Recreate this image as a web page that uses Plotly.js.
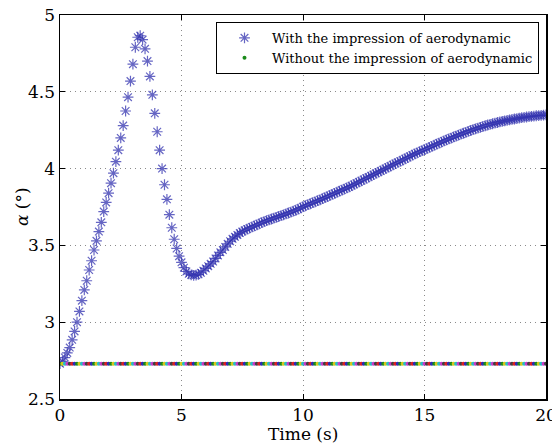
<!DOCTYPE html>
<html>
<head>
<meta charset="utf-8">
<script src="https://cdn.plot.ly/plotly-3.0.1.min.js"></script>
<style>html,body{margin:0;padding:0;background:#fff;}#chart{width:552px;height:445px;}</style>
</head>
<body>
<div id="chart"></div>
<script>
// time samples (s), step 0.1 s from 0 to 20
const timeStart = 0, timeStep = 0.1, timeCount = 201;
const time = [];
for (let i = 0; i < timeCount; i++) time.push(+(timeStart + i * timeStep).toFixed(1));

// alpha (deg) with aerodynamic impression
const alphaRise = [2.73, 2.745, 2.77, 2.80, 2.835, 2.885, 2.94, 3.00, 3.07, 3.14,
  3.21, 3.27, 3.34, 3.40, 3.47, 3.53, 3.59, 3.65, 3.72, 3.78, 3.84];            // 0.0-2.0
const alphaPeak = [3.905, 3.97, 4.045, 4.12, 4.20, 4.28, 4.375, 4.465, 4.57, 4.68,
  4.79, 4.855, 4.865, 4.84, 4.78, 4.70, 4.60, 4.48, 4.36, 4.24,
  4.12, 4.00, 3.895, 3.80];                                                       // 2.1-4.4
const alphaDip = [3.70, 3.615, 3.54, 3.48, 3.43, 3.39, 3.355, 3.33, 3.315, 3.308,
  3.305, 3.307, 3.312, 3.322, 3.335, 3.35];                                       // 4.5-6.0
const alphaRecover = [3.365, 3.38, 3.395, 3.415, 3.435, 3.455, 3.47, 3.49, 3.51, 3.527,
  3.543, 3.556, 3.568, 3.58, 3.59, 3.598, 3.606, 3.613, 3.62, 3.627];            // 6.1-8.0
const alphaClimb = [3.634, 3.641, 3.648, 3.655, 3.661, 3.666, 3.672, 3.677, 3.683, 3.688,
  3.694, 3.699, 3.705, 3.711, 3.717, 3.723, 3.729, 3.736, 3.744, 3.752,
  3.758, 3.765, 3.771, 3.778, 3.784, 3.791, 3.797, 3.804, 3.811, 3.818,
  3.825, 3.832, 3.839, 3.846, 3.853, 3.860, 3.867, 3.874, 3.881, 3.889,
  3.897, 3.905, 3.913, 3.921, 3.929, 3.937, 3.945, 3.953, 3.961, 3.969,
  3.977, 3.985, 3.993, 4.001, 4.009, 4.017, 4.025, 4.033, 4.041, 4.048];         // 8.1-14.0
const alphaTail = [4.056, 4.064, 4.072, 4.080, 4.088, 4.096, 4.103, 4.110, 4.117, 4.124,
  4.131, 4.138, 4.145, 4.152, 4.159, 4.166, 4.173, 4.180, 4.187, 4.193,
  4.199, 4.206, 4.212, 4.218, 4.224, 4.230, 4.236, 4.242, 4.248, 4.254,
  4.259, 4.264, 4.269, 4.274, 4.279, 4.284, 4.288, 4.292, 4.296, 4.300,
  4.304, 4.307, 4.311, 4.314, 4.317, 4.320, 4.323, 4.326, 4.329, 4.332,
  4.334, 4.336, 4.338, 4.340, 4.342, 4.344, 4.345, 4.347, 4.348, 4.350];         // 14.1-20.0
const alphaWith = [].concat(alphaRise, alphaPeak, alphaDip, alphaRecover, alphaClimb, alphaTail);

// alpha (deg) without aerodynamic impression: constant
const alphaWithoutValue = 2.73;
const alphaWithout = time.map(() => alphaWithoutValue);

const seriesNames = ['With the impression of aerodynamic', 'Without the impression of aerodynamic'];
const xTitle = 'Time (s)';
const yTitle = '<i>α</i> (°)';
const xTicks = [0, 5, 10, 15, 20];
const yTicks = [2.5, 3, 3.5, 4, 4.5, 5];

const dotCycle = ['#1a8a1a', '#d8c81a', '#22c0c8', '#c83cc8', '#404040', '#e02020', '#2a2ab8'];
const dotColors = time.map((_, i) => dotCycle[i % dotCycle.length]);

const font = 'DejaVu Serif';

const traces = [
  {
    x: time, y: alphaWith, name: seriesNames[0], type: 'scatter', mode: 'markers',
    marker: {symbol: 'asterisk-open', size: 9, color: 'rgba(50,50,175,0.75)',
             line: {color: 'rgba(50,50,175,0.75)', width: 1.2}},
    cliponaxis: true
  },
  {
    x: time, y: alphaWithout, name: seriesNames[1], type: 'scatter', mode: 'markers',
    marker: {symbol: 'circle', size: 4, color: dotColors, line: {width: 0}},
    cliponaxis: true
  }
];

const axisCommon = {
  showline: true, linecolor: '#000', linewidth: 1.5, mirror: 'allticks',
  ticks: 'inside', ticklen: 5, tickwidth: 1, tickcolor: '#000',
  showgrid: true, gridcolor: '#8a8a8a', gridwidth: 1, griddash: '1px,4px',
  zeroline: false, tickfont: {family: font, size: 17, color: '#000'},
  ticklabeloverflow: 'allow'
};

const layout = {
  width: 552, height: 445,
  margin: {l: 60, r: 6, t: 15, b: 46},
  paper_bgcolor: '#fff', plot_bgcolor: '#fff',
  font: {family: font, color: '#000'},
  showlegend: true,
  legend: {
    x: 0.9856, xanchor: 'right', y: 0.982, yanchor: 'top',
    bgcolor: '#fff', bordercolor: '#000', borderwidth: 1,
    font: {family: font, size: 13, color: '#000'},
    tracegroupgap: 0, itemwidth: 45
  },
  xaxis: Object.assign({}, axisCommon, {
    range: [0, 20], tickvals: xTicks, ticktext: xTicks.map(String)
  }),
  yaxis: Object.assign({}, axisCommon, {
    range: [2.5, 5], tickvals: yTicks, ticktext: yTicks.map(String)
  }),
  annotations: [
    {text: xTitle, xref: 'paper', yref: 'paper', x: 0.5, y: -0.092,
     xanchor: 'center', yanchor: 'middle', showarrow: false,
     font: {family: font, size: 17, color: '#000'}},
    {text: yTitle, xref: 'paper', yref: 'paper', x: -0.078, y: 0.5,
     xanchor: 'center', yanchor: 'middle', textangle: -90, showarrow: false,
     font: {family: font, size: 17, color: '#000'}}
  ]
};

Plotly.newPlot('chart', traces, layout, {displayModeBar: false, staticPlot: true});
</script>
</body>
</html>
